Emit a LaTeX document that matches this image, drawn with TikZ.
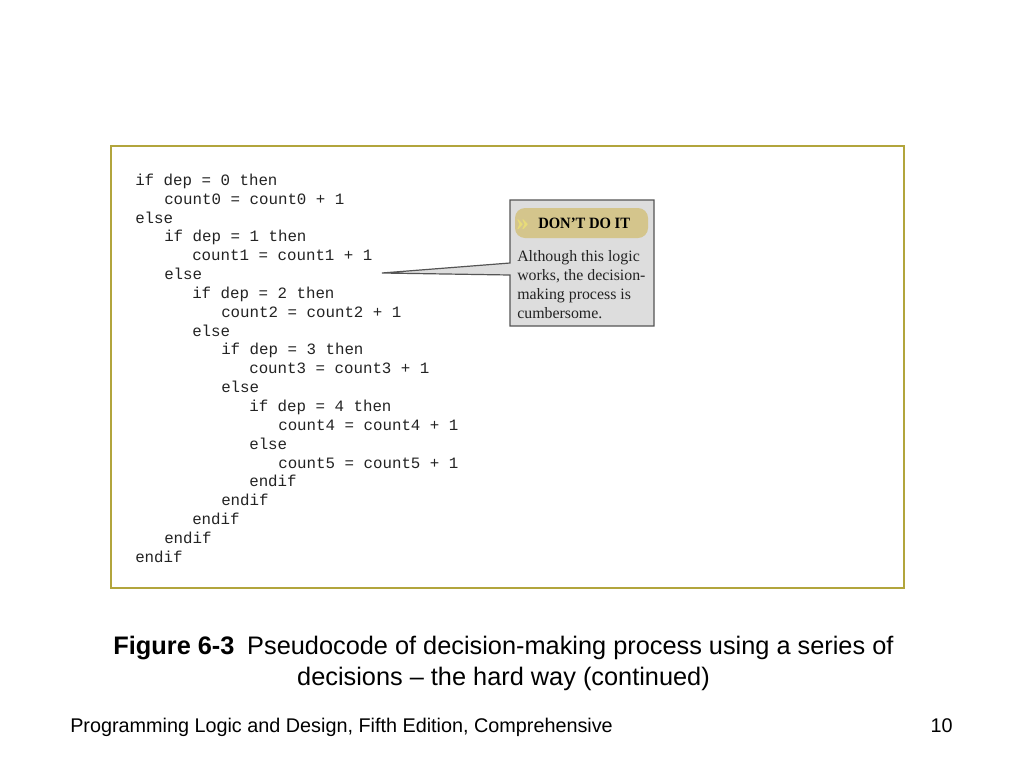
\documentclass[tikz,border=0pt]{standalone}
\usepackage{fontspec}
\usepackage{tikz}
\setmainfont{Liberation Serif}
\newfontfamily\codefont{Liberation Mono}
\newfontfamily\capfont{Liberation Sans}

\definecolor{frameolive}{RGB}{178,165,60}
\definecolor{calloutgray}{RGB}{221,221,221}
\definecolor{calloutedge}{RGB}{85,85,85}
\definecolor{tanbar}{RGB}{212,197,140}
\definecolor{tanmark}{RGB}{232,220,120}
\definecolor{codeink}{RGB}{35,35,35}

\tikzset{
  codeline/.style={anchor=base west,inner sep=0pt,text=codeink,font=\codefont\fontsize{11.85pt}{14pt}\selectfont},
  noteline/.style={anchor=base west,inner sep=0pt,text=codeink,font=\fontsize{11.9pt}{14pt}\selectfont},
}

\begin{document}
\begin{tikzpicture}[x=0.75pt,y=0.75pt,yscale=-1]
%set diagram to the page size 1024 x 768
\useasboundingbox (0,0) rectangle (1024,768);
\fill [white] (0,0) rectangle (1024,768);

%Shape: Rectangle [id:frame]
\draw [draw=frameolive,line width=1pt] (111,146) rectangle (904,588);

%Callout box with pointer
\coordinate (tip) at (382,273);
\draw [fill=calloutgray,draw=calloutedge,line width=0.9pt] (510,263) -- (510,200) -- (654,200) -- (654,326) -- (510,326) -- (510,275) -- (tip) -- cycle;
%Shape: Rounded Rectangle [id:tanbar]
\fill [tanbar,rounded corners=7.5pt] (515,208) rectangle (648,238);

% Text Node
\draw (516,230) node (mark) [anchor=base west,inner sep=0pt,text=tanmark,font=\bfseries\fontsize{19pt}{19pt}\selectfont] {»};
% Text Node
\draw (538,228) node (heading) [anchor=base west,inner sep=0pt,text=black,font=\bfseries\fontsize{11.8pt}{12pt}\selectfont] {\scalebox{0.93}[1]{DON’T DO IT}};
% Text Node
\draw (517,261) node (note1) [noteline] {Although this logic};
% Text Node
\draw (517,280) node (note2) [noteline] {works, the decision-};
% Text Node
\draw (517,299) node (note3) [noteline] {making process is};
% Text Node
\draw (517,318) node (note4) [noteline] {cumbersome.};

% Code lines
\draw (135,185) node (c1) [codeline] {if dep = 0 then};
\draw (164,204) node (c2) [codeline] {count0 = count0 + 1};
\draw (135,223) node (c3) [codeline] {else};
\draw (164,241.5) node (c4) [codeline] {if dep = 1 then};
\draw (192,260.5) node (c5) [codeline] {count1 = count1 + 1};
\draw (164,279) node (c6) [codeline] {else};
\draw (192,298) node (c7) [codeline] {if dep = 2 then};
\draw (221,317) node (c8) [codeline] {count2 = count2 + 1};
\draw (192,336) node (c9) [codeline] {else};
\draw (221,354.5) node (c10) [codeline] {if dep = 3 then};
\draw (249,373.5) node (c11) [codeline] {count3 = count3 + 1};
\draw (221,392.5) node (c12) [codeline] {else};
\draw (249,411) node (c13) [codeline] {if dep = 4 then};
\draw (278,430) node (c14) [codeline] {count4 = count4 + 1};
\draw (249,449) node (c15) [codeline] {else};
\draw (278,468) node (c16) [codeline] {count5 = count5 + 1};
\draw (249,486.5) node (c17) [codeline] {endif};
\draw (221,505.5) node (c18) [codeline] {endif};
\draw (192,524.5) node (c19) [codeline] {endif};
\draw (164,543) node (c20) [codeline] {endif};
\draw (135,562) node (c21) [codeline] {endif};

% Text Node
\draw (503.5,685) node (caption) [anchor=base,inner sep=0pt,align=center,font=\capfont\fontsize{19pt}{23.25pt}\selectfont] {\textbf{Figure 6-3}\enspace Pseudocode of decision-making process using a series of\\decisions – the hard way (continued)};
% Text Node
\draw (70,732) node (footer) [anchor=base west,inner sep=0pt,font=\capfont\fontsize{14.85pt}{17pt}\selectfont] {Programming Logic and Design, Fifth Edition, Comprehensive};
% Text Node
\draw (953,732) node (page) [anchor=base east,inner sep=0pt,font=\capfont\fontsize{14.85pt}{17pt}\selectfont] {10};
\end{tikzpicture}
\end{document}
